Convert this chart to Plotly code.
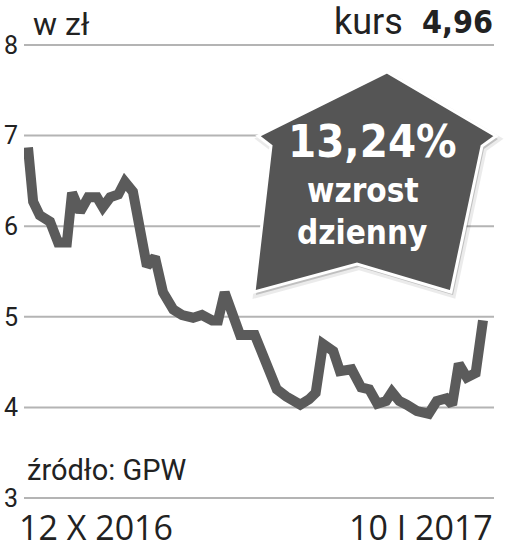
import plotly.graph_objects as go

# ---- data (sessions from 12 X 2016 to 10 I 2017, price in PLN) ----
sessions = [0, 0.7, 1.6, 3.0, 4.1, 5.3, 6.0, 7.1, 8.2, 9.4, 10.2, 11.2, 12.3, 13.2,
            14.3, 15.3, 16.2, 17.3, 18.4, 19.8, 21.0, 22.5, 23.7, 25.1, 25.9, 26.8,
            28.9, 30.9, 32.6, 33.9, 35.2, 37.1, 38.3, 39.2, 40.2, 41.6, 42.5, 44.1,
            45.4, 46.5, 47.6, 48.8, 49.6, 50.6, 51.6, 53.0, 54.6, 55.7, 57.0, 57.8,
            58.7, 59.8, 61.0, 62.0]
prices = [6.87, 6.27, 6.12, 6.05, 5.82, 5.82, 6.37, 6.16, 6.32, 6.32, 6.21, 6.32, 6.35, 6.49,
          6.38, 6.00, 5.56, 5.66, 5.27, 5.08, 5.02, 4.99, 5.02, 4.96, 4.96, 5.27,
          4.80, 4.80, 4.48, 4.20, 4.12, 4.03, 4.09, 4.16, 4.70, 4.62, 4.40, 4.42,
          4.22, 4.20, 4.04, 4.07, 4.17, 4.07, 4.03, 3.96, 3.93, 4.07, 4.10, 4.03,
          4.48, 4.33, 4.38, 4.96]
y_ticks = [3, 4, 5, 6, 7, 8]
date_start = "12 X 2016"
date_end = "10 I 2017"
last_price = "4,96"
change_label = "13,24%"

W, H = 508, 549
L, R, T, B = 24, 14, 43, 49
PW, PH = W - L - R, H - T - B
PAD = 2 / 90.6  # keep edge gridlines inside the plot area
Y0, Y1 = 3 - PAD, 8 + PAD
X0, X1 = -0.545, 63.5


def px(x):
    return (x - L) / PW


def py(y):
    return (H - B - y) / PH


def path(pts, dx=0, dy=0):
    s = "M " + " L ".join(f"{px(x + dx):.4f},{py(y + dy):.4f}" for x, y in pts)
    return s + " Z"


arrow = [(387, 72), (496, 136), (482, 146), (451, 292), (357, 264),
         (254, 292), (271, 146), (258, 136)]

fig = go.Figure()
# horizontal gridlines as a trace, built from the tick values
gx, gy = [], []
for v in y_ticks:
    gx += [X0, X1, None]
    gy += [v, v, None]
fig.add_trace(go.Scatter(x=gx, y=gy, mode="lines", line=dict(color="#b4b4b4", width=2),
                         hoverinfo="skip", connectgaps=False))
fig.add_trace(go.Scatter(x=sessions, y=prices, mode="lines",
                         line=dict(color="#5b5b5b", width=10),
                         hoverinfo="skip"))

fig.update_layout(
    width=W, height=H,
    margin=dict(l=L, r=R, t=T, b=B, autoexpand=False),
    paper_bgcolor="white", plot_bgcolor="white",
    showlegend=False,
    xaxis=dict(range=[X0, X1], showgrid=False, zeroline=False, automargin=False,
               showticklabels=False, showline=False, fixedrange=True),
    yaxis=dict(range=[Y0, Y1], tickvals=y_ticks, ticktext=[str(v) for v in y_ticks],
               showgrid=False, zeroline=False,
               showline=False, ticks="", ticklabelstandoff=5, automargin=False,
               tickfont=dict(family="Roboto", size=25, color="#222222"),
               fixedrange=True),
)

shapes = [
    dict(type="path", xref="paper", yref="paper", path=path(arrow, 2, 3),
         fillcolor="rgba(0,0,0,0.18)", line=dict(color="rgba(0,0,0,0.08)", width=6),
         layer="above"),
    dict(type="path", xref="paper", yref="paper", path=path(arrow),
         fillcolor="#555555", line=dict(color="white", width=3), layer="above"),
]
fig.update_layout(shapes=shapes)

ann = []
def text(t, x, y, size, family, color="#222222", xanchor="left", yanchor="middle", bold=False):
    ann.append(dict(text=(f"<b>{t}</b>" if bold else t), x=px(x), y=py(y), xref="paper", yref="paper",
                    showarrow=False, xanchor=xanchor, yanchor=yanchor,
                    font=dict(family=family, size=size, color=color)))

text("w zł", 31, 24, 32, "Roboto")
text("kurs", 405, 22, 36, "Roboto", xanchor="right")
text(last_price, 495, 22, 32, "DejaVu Sans Condensed", xanchor="right", bold=True)
text(change_label, 372, 141, 45, "DejaVu Sans Condensed", color="white", xanchor="center", bold=True)
text("wzrost", 363, 190, 33, "DejaVu Sans Condensed", color="white", xanchor="center", bold=True)
text("dzienny", 362, 232, 33, "DejaVu Sans Condensed", color="white", xanchor="center", bold=True)
text("źródło: GPW", 25, 470, 29, "Roboto")
text(date_start, 17, 527, 34, "Open Sans")
text(date_end, 495, 527, 34, "Open Sans", xanchor="right")
fig.update_layout(annotations=ann)

fig.write_html("out.html", config={"displayModeBar": False},
               post_script="document.body.style.margin='0';document.body.style.padding='0';")
